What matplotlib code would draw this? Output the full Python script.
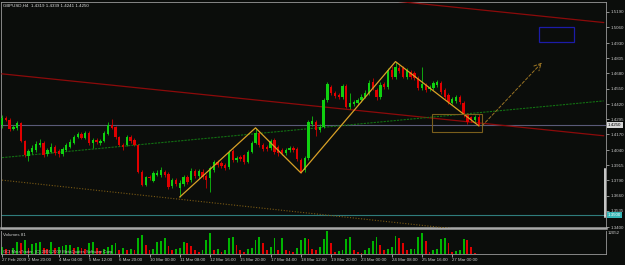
import matplotlib
matplotlib.use('Agg')
import matplotlib.pyplot as plt
from matplotlib import font_manager
from matplotlib.patches import Rectangle
from matplotlib.lines import Line2D
from matplotlib.transforms import ScaledTranslation

# ---------------- data ----------------
opens = [1.4251,1.4309,1.4292,1.4217,1.4225,1.4267,1.4117,1.3992,1.4025,1.4042,
         1.4084,1.4100,1.4009,1.4025,1.4067,1.4034,1.4009,1.4042,1.4067,1.4100,
         1.4150,1.4175,1.4142,1.4184,1.4100,1.4125,1.4100,1.4117,1.4175,1.4251,
         1.4234,1.4150,1.4084,1.4084,1.4150,1.4125,1.4084,1.3859,1.3750,1.3817,
         1.3783,1.3834,1.3834,1.3859,1.3842,1.3742,1.3792,1.3725,1.3758,1.3817,
         1.3792,1.3867,1.3825,1.3859,1.3825,1.3808,1.3875,1.3942,1.3934,1.3917,
         1.3900,1.4034,1.3959,1.3984,1.4000,1.3942,1.4025,1.4100,1.4184,1.4084,
         1.4067,1.4059,1.4125,1.4067,1.4042,1.4017,1.4042,1.4059,1.4050,1.3959,
         1.3875,1.3975,1.4259,1.4275,1.4209,1.4234,1.4459,1.4567,1.4517,1.4501,
         1.4484,1.4576,1.4400,1.4425,1.4434,1.4459,1.4484,1.4517,1.4609,1.4542,
         1.4484,1.4592,1.4567,1.4709,1.4651,1.4726,1.4726,1.4651,1.4692,1.4684,
         1.4642,1.4559,1.4584,1.4551,1.4559,1.4584,1.4601,1.4542,1.4501,1.4434,
         1.4451,1.4484,1.4434,1.4334,1.4317,1.4292,1.4319]
highs = [1.4334,1.4325,1.4309,1.4251,1.4284,1.4275,1.4125,1.4050,1.4084,1.4117,
         1.4134,1.4117,1.4059,1.4100,1.4084,1.4050,1.4067,1.4100,1.4134,1.4167,
         1.4192,1.4192,1.4200,1.4200,1.4142,1.4142,1.4134,1.4200,1.4275,1.4300,
         1.4242,1.4159,1.4100,1.4167,1.4167,1.4142,1.4092,1.3875,1.3825,1.3834,
         1.3867,1.3875,1.3900,1.3875,1.3859,1.3808,1.3808,1.3792,1.3834,1.3834,
         1.3892,1.3884,1.3884,1.3884,1.3842,1.3909,1.3959,1.3959,1.3950,1.3934,
         1.4042,1.4050,1.3992,1.4000,1.4009,1.4042,1.4117,1.4225,1.4200,1.4100,
         1.4084,1.4134,1.4142,1.4084,1.4059,1.4059,1.4075,1.4075,1.4067,1.3975,
         1.3992,1.4292,1.4325,1.4292,1.4259,1.4476,1.4609,1.4584,1.4534,1.4517,
         1.4592,1.4592,1.4517,1.4459,1.4476,1.4509,1.4542,1.4626,1.4642,1.4559,
         1.4609,1.4609,1.4726,1.4742,1.4776,1.4751,1.4742,1.4726,1.4709,1.4701,
         1.4659,1.4734,1.4601,1.4584,1.4617,1.4626,1.4617,1.4559,1.4517,1.4484,
         1.4501,1.4501,1.4451,1.4350,1.4325,1.4334,1.4339]
lows = [1.4225,1.4284,1.4200,1.4209,1.4209,1.4109,1.3984,1.3950,1.4009,1.4025,
        1.4067,1.3984,1.3992,1.4017,1.4000,1.3984,1.3992,1.4034,1.4059,1.4092,
        1.4142,1.4134,1.4134,1.4084,1.4059,1.4092,1.4084,1.4109,1.4167,1.4217,
        1.4134,1.4075,1.4042,1.4075,1.4100,1.4075,1.3850,1.3742,1.3742,1.3792,
        1.3775,1.3825,1.3817,1.3817,1.3717,1.3725,1.3742,1.3650,1.3742,1.3758,
        1.3775,1.3808,1.3808,1.3800,1.3725,1.3692,1.3859,1.3900,1.3892,1.3875,
        1.3884,1.3942,1.3942,1.3950,1.3925,1.3934,1.4017,1.4092,1.4067,1.4034,
        1.4034,1.4042,1.4009,1.3992,1.4000,1.4000,1.4025,1.4025,1.3950,1.3850,
        1.3859,1.3959,1.4242,1.4159,1.4192,1.4226,1.4442,1.4501,1.4476,1.4467,
        1.4467,1.4392,1.4384,1.4409,1.4417,1.4442,1.4476,1.4501,1.4542,1.4459,
        1.4467,1.4551,1.4551,1.4634,1.4634,1.4684,1.4642,1.4634,1.4634,1.4626,
        1.4542,1.4542,1.4526,1.4534,1.4542,1.4567,1.4509,1.4467,1.4425,1.4425,
        1.4434,1.4425,1.4317,1.4259,1.4275,1.4275,1.4241]
closes = [1.4309,1.4292,1.4217,1.4234,1.4267,1.4117,1.4000,1.4034,1.4059,1.4092,
          1.4100,1.4000,1.4042,1.4067,1.4017,1.4009,1.4050,1.4084,1.4109,1.4150,
          1.4175,1.4142,1.4184,1.4100,1.4125,1.4109,1.4117,1.4184,1.4251,1.4225,
          1.4150,1.4084,1.4067,1.4150,1.4117,1.4084,1.3859,1.3750,1.3817,1.3808,
          1.3850,1.3850,1.3875,1.3834,1.3733,1.3792,1.3758,1.3767,1.3817,1.3775,
          1.3867,1.3825,1.3867,1.3817,1.3792,1.3892,1.3942,1.3917,1.3909,1.3892,
          1.4025,1.3959,1.3975,1.3967,1.3942,1.4025,1.4100,1.4184,1.4084,1.4050,
          1.4050,1.4117,1.4025,1.4017,1.4017,1.4042,1.4059,1.4042,1.3967,1.3859,
          1.3975,1.4275,1.4284,1.4209,1.4234,1.4459,1.4592,1.4517,1.4492,1.4484,
          1.4576,1.4400,1.4434,1.4442,1.4459,1.4484,1.4517,1.4601,1.4559,1.4484,
          1.4584,1.4567,1.4709,1.4651,1.4734,1.4701,1.4651,1.4709,1.4651,1.4642,
          1.4559,1.4592,1.4542,1.4567,1.4601,1.4609,1.4526,1.4484,1.4442,1.4467,
          1.4484,1.4442,1.4334,1.4275,1.4292,1.4317,1.4250]
volumes = [3670,2620,2100,3140,6290,5760,7340,3140,5240,5760,
           6290,3140,2620,6290,3140,3670,4190,4450,4720,3140,
           3410,3140,2620,5760,6030,3140,1570,2620,3670,4720,
           5760,2100,3140,2100,2620,2100,8380,9960,4720,2100,
           2360,6290,6810,8380,4190,2100,2360,3140,6290,5760,
           4190,2100,1050,2100,7340,11000,2100,2360,1050,2100,
           8380,8650,4720,2100,1050,2620,2880,7340,8910,5760,
           2100,3670,8380,2100,8380,2100,1570,1050,3140,7340,
           8380,7860,2620,2100,3670,7860,12052,5760,1050,1310,
           2100,7860,8910,2100,1050,520,2100,3140,6810,8910,
           4720,2100,2360,3670,9430,8380,5760,2100,2360,2620,
           8910,11000,6810,1050,2100,2620,7860,8380,5760,1050,
           1310,2100,7860,7340,3670,520,81]

time_labels = ["27 Feb 2009", "2 Mar 20:00", "4 Mar 04:00", "5 Mar 12:00",
               "6 Mar 20:00", "10 Mar 00:00", "11 Mar 08:00", "12 Mar 16:00",
               "15 Mar 20:00", "17 Mar 04:00", "18 Mar 12:00", "19 Mar 20:00",
               "23 Mar 00:00", "24 Mar 08:00", "25 Mar 16:00", "27 Mar 00:00"]
time_label_bars = [0, 7, 15, 23, 31, 39, 47, 55, 63, 71, 79, 87, 95, 103, 111, 119]
price_ticks = [1.5190, 1.5060, 1.4930, 1.4805, 1.4680, 1.4550, 1.4420, 1.4295,
               1.4170, 1.4040, 1.3915, 1.3790, 1.3660, 1.3535, 1.3400]

# drawing objects (bar index, price)
zigzag_bars = [47, 67, 79, 104, 126]
zigzag_prices = [1.3650, 1.4225, 1.3850, 1.4776, 1.4242]
red_low_line = [(0, 1.4674), (159, 1.4159)]
red_up_line = [(100, 1.5292), (159, 1.5101)]
green_line = [(0, 1.3977), (159, 1.4449)]
dotted_line = [(0, 1.3790), (159, 1.3251)]
box_orange = [(113.7, 1.4193), (126.9, 1.4342)]
box_blue = [(141.9, 1.4943), (151.2, 1.5060)]
arrow_pts = [(126.9, 1.4242), (142.7, 1.4768)]
bid_price = 1.4250
alert_price = 1.3500
volume_max = 12052
title_text = "GBPUSD,H4  1.4319 1.4339 1.4241 1.4250"

# ---------------- style ----------------
names = {f.name for f in font_manager.fontManager.ttflist}
fam = ['Liberation Sans Narrow'] if 'Liberation Sans Narrow' in names else ['Liberation Sans']
plt.rcParams['font.family'] = fam + ['DejaVu Sans']
FS = 3.2
BG = '#0b0d0b'
FG = '#c8c8c8'
BULL = '#10d010'
BEAR = '#e00000'

W, H = 625, 265
fig = plt.figure(figsize=(W / 100, H / 100), dpi=100)
fig.patch.set_facecolor(BG)


def px_axes(l, t, r, b):
    return fig.add_axes([l / W, 1 - b / H, (r - l) / W, (b - t) / H])


ax = px_axes(1, 1.5, 606, 228)
axv = px_axes(1, 230.5, 606, 254)
bar_px = 3.79
xlim = (-1 / bar_px, 605 / bar_px)
for a in (ax, axv):
    a.set_facecolor(BG)
    a.set_xlim(*xlim)
    for s in a.spines.values():
        s.set_color('#9a9a9a')
        s.set_linewidth(0.6)

ax.set_ylim(1.33917, 1.52759)
ax.spines['bottom'].set_linewidth(1.8)
ax.spines['bottom'].set_color('#a8a8a8')
axv.spines['top'].set_visible(False)

n = len(opens)
idx = list(range(n))
cols = [BULL if c >= o else BEAR for o, c in zip(opens, closes)]
ax.vlines(idx, lows, highs, colors=cols, linewidth=0.55, zorder=4)
heights = [c - o if abs(c - o) > 0.0002 else 0.0002 for o, c in zip(opens, closes)]
ax.bar(idx, heights, bottom=opens, width=0.62, color=cols, linewidth=0, zorder=5)

# horizontal lines
ax.axhline(bid_price, color='#5a5a78', lw=0.8, zorder=2)
ax.axhline(alert_price, color='#2f7c7c', lw=0.8, zorder=2)

# trendlines
def seg(pts, **kw):
    ax.plot([p[0] for p in pts], [p[1] for p in pts], **kw)

seg(red_low_line, color='#8c0a0a', lw=0.9, zorder=3)
seg(red_up_line, color='#8c0a0a', lw=0.9, zorder=3)
seg(green_line, color='#127012', lw=0.8, ls=(0, (2, 1)), zorder=3)
seg(dotted_line, color='#7a5a14', lw=0.8, ls=(0, (1, 1.5)), zorder=3)
ax.plot(zigzag_bars, zigzag_prices, color='#d9a126', lw=0.9, zorder=6)

(x0, y0), (x1, y1) = box_orange
ax.add_patch(Rectangle((x0, y0), x1 - x0, y1 - y0, fill=False, ec='#7a5e1c', lw=0.8, zorder=6))
(x0, y0), (x1, y1) = box_blue
ax.add_patch(Rectangle((x0, y0), x1 - x0, y1 - y0, fill=False, ec='#1c1ca8', lw=0.9, zorder=6))
ax.annotate('', xy=arrow_pts[1], xytext=arrow_pts[0],
            arrowprops=dict(arrowstyle='->,head_length=0.5,head_width=0.25', color='#9a7424',
                            lw=0.7, ls=(0, (3, 2)), shrinkA=0, shrinkB=0), zorder=6)

# right price axis
ax.yaxis.tick_right()
ax.set_yticks(price_ticks)
ax.set_yticklabels([f'{p:.4f}' for p in price_ticks])
ax.tick_params(axis='y', colors=FG, labelsize=FS, length=2, width=0.5, pad=1.5)
ax.set_xticks([])

# volumes
vcols = ['#00b400' if i == 0 or volumes[i] > volumes[i - 1] else '#e00000' for i in idx]
axv.bar(idx, volumes, width=0.48, color=vcols, linewidth=0)
axv.set_ylim(0, volume_max)
axv.set_yticks([])
axv.set_xticks(time_label_bars)
axv.set_xticklabels(time_labels)
shift = ScaledTranslation(2.5 / 100, 0, fig.dpi_scale_trans)
for t in axv.get_xticklabels():
    t.set_ha('left')
    t.set_transform(t.get_transform() + shift)
axv.tick_params(axis='x', colors=FG, labelsize=FS, length=2, width=0.5, pad=1.2)

# texts
fig.text(3 / W, 1 - 5.5 / H, title_text, color='#e0e0e0', fontsize=FS, va='center', ha='left')
fig.text(3 / W, 1 - 234.5 / H, 'Volumes 81', color='#d0d0d0', fontsize=FS, va='center', ha='left')
fig.text(608 / W, 1 - 233 / H, str(volume_max), color=FG, fontsize=FS, va='center', ha='left')
fig.text(3 / W, 1 - 251.5 / H, 'GCI MetaTrader, (C) 2001-2009 MetaQuotes Software Corp.',
         color='#d8d8d8', fontsize=3.0, va='center', ha='left', alpha=0.85)

# price tags on the right axis
ax.annotate(f'{bid_price:.4f}', xy=(1, bid_price), xycoords=('axes fraction', 'data'),
            xytext=(1.5, 0), textcoords='offset points', fontsize=FS, color='#000000',
            va='center', ha='left',
            bbox=dict(boxstyle='square,pad=0.25', fc='#d8d8d8', ec='none'), annotation_clip=False)
ax.annotate(f'{alert_price:.4f}', xy=(1, alert_price), xycoords=('axes fraction', 'data'),
            xytext=(1.5, 0), textcoords='offset points', fontsize=FS, color='#ffffff',
            va='center', ha='left',
            bbox=dict(boxstyle='square,pad=0.25', fc='#35b5b5', ec='none'), annotation_clip=False)
fig.add_artist(Line2D([605.3 / W, 605.3 / W], [1 - 169 / H, 1 - 217 / H], color='white', lw=1.1))

fig.savefig('out.png', dpi=100, facecolor=BG)
